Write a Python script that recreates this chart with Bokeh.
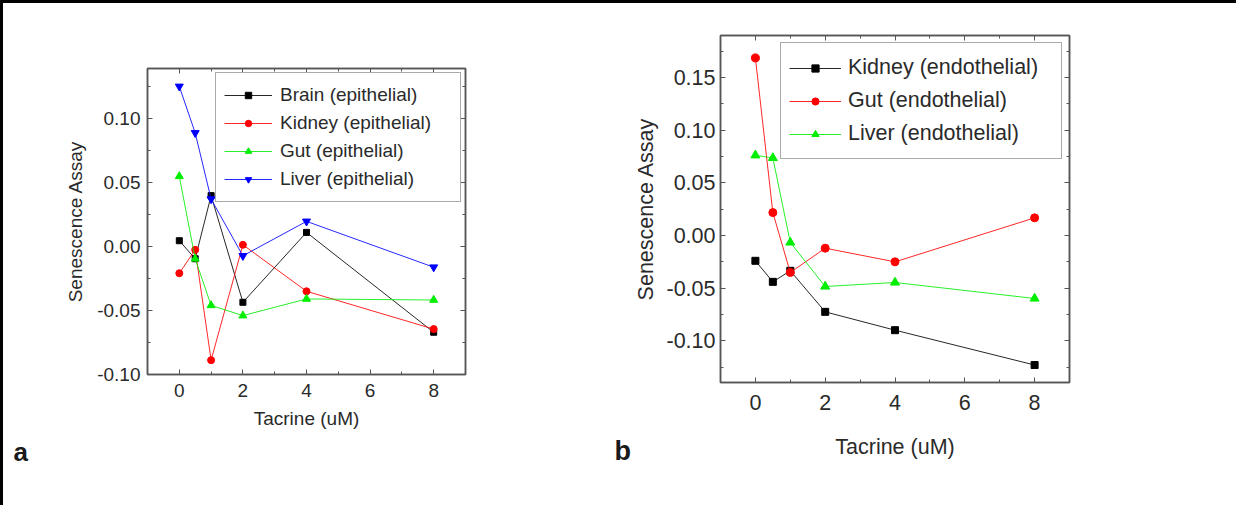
from bokeh.plotting import figure
from bokeh.layouts import row
from bokeh.models import (Range1d, LinearAxis, FixedTicker, PrintfTickFormatter,
                          CustomJSTickFormatter, Legend, LegendItem, Title, Label)
from bokeh.embed import file_html
from bokeh.resources import INLINE

# ---------------- data ----------------
tacrine = [0, 0.5, 1, 2, 4, 8]

# panel a (epithelial)
brain_epi = [0.0045, -0.0096, 0.0397, -0.0436, 0.011, -0.067]
kidney_epi = [-0.0209, -0.0026, -0.0888, 0.0013, -0.035, -0.0645]
gut_epi = [0.0548, -0.0096, -0.046, -0.054, -0.041, -0.0418]
liver_epi = [0.125, 0.0887, 0.037, -0.0073, 0.0196, -0.0162]

# panel b (endothelial)
kidney_endo = [-0.024, -0.044, -0.0335, -0.0725, -0.0899, -0.123]
gut_endo = [0.1687, 0.0218, -0.0351, -0.012, -0.025, 0.0168]
liver_endo = [0.0762, 0.0737, -0.0066, -0.0484, -0.0446, -0.0598]

x_ticks = [0, 2, 4, 6, 8]
x_minor = [-1, 1, 3, 5, 7, 9]
ya_ticks = [-0.10, -0.05, 0.00, 0.05, 0.10]
yb_ticks = [-0.10, -0.05, 0.00, 0.05, 0.10, 0.15]

FONT = "Liberation Sans"
AX = "#555555"
TXT = "#2a2a2a"


def style_axis(ax, size, show_labels=True, label_standoff=8):
    ax.axis_line_color = AX
    ax.axis_line_width = 1.5
    ax.major_tick_line_color = AX
    ax.minor_tick_line_color = AX
    ax.major_tick_in = 5
    ax.major_tick_out = 0
    ax.minor_tick_in = 3
    ax.minor_tick_out = 0
    ax.major_label_text_font = FONT
    ax.major_label_text_color = TXT
    ax.major_label_text_font_size = size
    ax.major_label_standoff = label_standoff
    ax.axis_label_text_font = FONT
    ax.axis_label_text_font_style = "normal"
    ax.axis_label_text_color = TXT
    ax.axis_label_text_font_size = size
    if not show_labels:
        ax.formatter = CustomJSTickFormatter(code="return ''")


def make_panel(width, height, left, right, top, bottom, xr, yr, yticks, yminor,
               fsize, xstand, ystand, xtitle_st, ytitle_st):
    p = figure(width=width, height=height, output_backend="svg", toolbar_location=None,
               x_range=Range1d(*xr), y_range=Range1d(*yr),
               min_border_left=left, min_border_right=right,
               min_border_top=top, min_border_bottom=bottom)
    p.frame_align = False
    p.xgrid.visible = False
    p.ygrid.visible = False
    p.outline_line_color = AX
    p.outline_line_width = 1.5
    p.background_fill_color = "white"
    p.border_fill_color = "white"

    xt = FixedTicker(ticks=x_ticks, minor_ticks=x_minor)
    yt = FixedTicker(ticks=yticks, minor_ticks=yminor)

    p.xaxis.ticker = xt
    p.yaxis.ticker = yt
    p.xaxis.axis_label = "Tacrine (uM)"
    p.yaxis.axis_label = "Senescence Assay"
    style_axis(p.xaxis[0], fsize, label_standoff=xstand)
    style_axis(p.yaxis[0], fsize, label_standoff=ystand)
    p.yaxis.formatter = PrintfTickFormatter(format="%.2f")
    p.xaxis.axis_label_standoff = xtitle_st
    p.yaxis.axis_label_standoff = ytitle_st

    top_ax = LinearAxis(ticker=xt)
    right_ax = LinearAxis(ticker=yt)
    style_axis(top_ax, fsize, show_labels=False, label_standoff=0)
    style_axis(right_ax, fsize, show_labels=False, label_standoff=0)
    p.add_layout(top_ax, "above")
    p.add_layout(right_ax, "right")
    return p


def add_series(p, y, color, marker, msize):
    r = p.line(tacrine, y, line_color=color, line_width=1, line_alpha=0.85)
    s = p.scatter(tacrine, y, marker=marker, size=msize, fill_color=color,
                  line_color=color)
    return [r, s]


H = 502

# ---------------- panel a ----------------
WA = 598
pa = make_panel(WA, H, 144, 136, 65, 131, (-1, 9), (-0.10, 0.139),
                ya_ticks, [-0.075, -0.025, 0.025, 0.075, 0.125],
                "19px", 9, 7, 8, 8)

series_a = [
    ("Brain (epithelial)", brain_epi, "#000000", "square", 6),
    ("Kidney (epithelial)", kidney_epi, "#ff0000", "circle", 7),
    ("Gut (epithelial)", gut_epi, "#00ee00", "triangle", 8),
    ("Liver (epithelial)", liver_epi, "#0000ff", "inverted_triangle", 8),
]
items_a = []
for name, ys, c, m, s in series_a:
    items_a.append(LegendItem(label=name, renderers=add_series(pa, ys, c, m, s)))

leg_a = Legend(items=items_a, location="top_right")
leg_a.margin = 4
leg_a.padding = 8
leg_a.spacing = 0
leg_a.glyph_width = 48
leg_a.glyph_height = 16
leg_a.label_height = 28
leg_a.label_width = 172
leg_a.label_standoff = 8
leg_a.label_text_font = FONT
leg_a.label_text_font_size = "19px"
leg_a.label_text_color = TXT
leg_a.border_line_color = AX
leg_a.border_line_width = 1.5
leg_a.background_fill_alpha = 1
pa.add_layout(leg_a)
pa.add_layout(Title(text="a", align="left", offset=-134, standoff=7,
                    text_font=FONT, text_font_style="bold",
                    text_font_size="26px", text_color="#1a1a1a"), "below")

# ---------------- narrow strip holding the "b" tag ----------------
tag = figure(width=30, height=H, output_backend="svg", toolbar_location=None,
             x_range=Range1d(0, 1), y_range=Range1d(0, 1),
             x_axis_type=None, y_axis_type=None,
             min_border_left=0, min_border_right=0,
             min_border_top=0, min_border_bottom=0)
tag.frame_align = False
tag.outline_line_color = None
tag.xgrid.visible = False
tag.ygrid.visible = False
tag.add_layout(Label(x=13, y=55, x_units="screen", y_units="screen", text="b",
                     text_baseline="alphabetic", text_font=FONT,
                     text_font_style="bold", text_font_size="27px",
                     text_color="#1a1a1a"))

# ---------------- panel b ----------------
WB = 605
pb = make_panel(WB, H, 86, 167, 32, 123, (-1, 9), (-0.1396, 0.190),
                yb_ticks, [-0.125, -0.075, -0.025, 0.025, 0.075, 0.125, 0.175],
                "21.5px", 12, 5, 22, 5)

series_b = [
    ("Kidney (endothelial)", kidney_endo, "#000000", "square", 7),
    ("Gut (endothelial)", gut_endo, "#ff0000", "circle", 8),
    ("Liver (endothelial)", liver_endo, "#00ee00", "triangle", 9),
]
items_b = []
for name, ys, c, m, s in series_b:
    items_b.append(LegendItem(label=name, renderers=add_series(pb, ys, c, m, s)))

leg_b = Legend(items=items_b, location="top_right")
leg_b.margin = 7
leg_b.padding = 8
leg_b.spacing = 0
leg_b.glyph_width = 52
leg_b.glyph_height = 18
leg_b.label_height = 33
leg_b.label_width = 205
leg_b.label_standoff = 7
leg_b.label_text_font = FONT
leg_b.label_text_font_size = "21.5px"
leg_b.label_text_color = TXT
leg_b.border_line_color = AX
leg_b.border_line_width = 1.5
leg_b.background_fill_alpha = 1
pb.add_layout(leg_b)

layout = row(pa, tag, pb, styles={"border-top": "3px solid black",
                                  "border-left": "3px solid black"})

open("out.html", "w").write(file_html(layout, INLINE))
